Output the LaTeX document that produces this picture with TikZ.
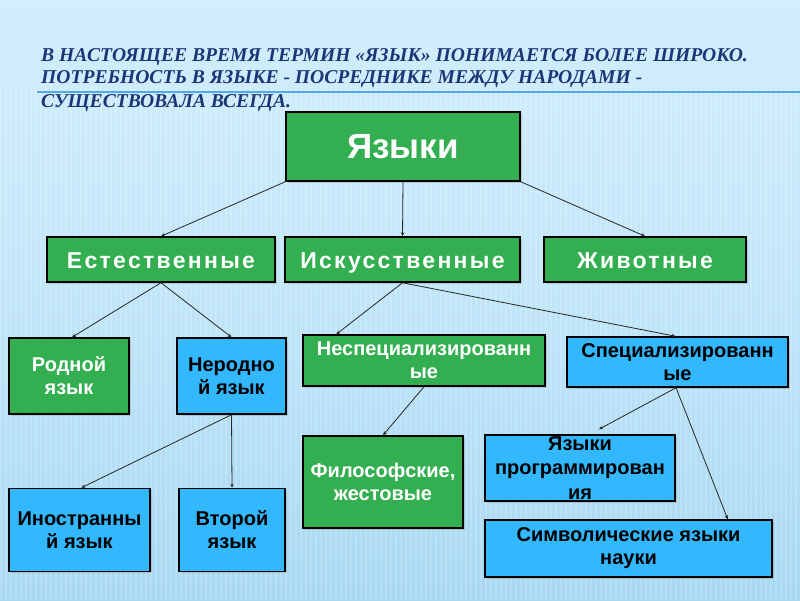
\documentclass[tikz,border=0pt]{standalone}
\usepackage{fontspec}
\setmainfont{Liberation Sans}
\newfontfamily\titlefont{Liberation Serif}
\newfontfamily\spacedfont[LetterSpace=10]{Liberation Sans}
\usetikzlibrary{arrows.meta,shadows}

\definecolor{bgtop}{HTML}{D3EEFC}
\definecolor{bgmid}{HTML}{C0E5F9}
\definecolor{bgbot}{HTML}{A8D8F2}
\definecolor{greenfill}{HTML}{33AE50}
\definecolor{bluefill}{HTML}{33B7FD}
\definecolor{titlecol}{HTML}{1B3676}
\definecolor{rulecol}{HTML}{4FAAE6}

\tikzset{
  box/.style={draw=black, line width=1.5pt, inner sep=1pt, align=center,
    font=\bfseries\fontsize{20}{23}\selectfont,
    drop shadow={shadow xshift=1.5pt, shadow yshift=-1.5pt, opacity=0.3}},
  greenbox/.style={box, fill=greenfill, text=white},
  bluebox/.style={box, fill=bluefill, text=black},
  levelone/.style={greenbox, minimum height=45pt, text height=17pt, text depth=0pt,
    font=\spacedfont\bfseries\fontsize{23}{26}\selectfont},
  conn/.style={draw=black!85, line width=0.8pt, -{Stealth[length=4pt,width=3.5pt]}},
  titletext/.style={anchor=base west, inner sep=0pt, text=titlecol,
    font=\titlefont\bfseries\itshape\fontsize{19.6}{22}\selectfont},
}

\begin{document}
\begin{tikzpicture}[x=1pt,y=-1pt]
\useasboundingbox (0,0) rectangle (800,600);
% background
\shade[top color=bgtop, bottom color=bgmid] (0,0) rectangle (800,300);
\shade[top color=bgmid, bottom color=bgbot] (0,300) rectangle (800,600);
\foreach \i in {0,5,...,800} {
  \fill[white, opacity=0.18] (\i,85) rectangle (\i+2,600);
}
\draw[rulecol, line width=1.3pt] (37,92) -- (800,92);

% title
\node[titletext] (title1) at (41,61) {В НАСТОЯЩЕЕ ВРЕМЯ ТЕРМИН «ЯЗЫК» ПОНИМАЕТСЯ БОЛЕЕ ШИРОКО.};
\node[titletext] (title2) at (41,83) {ПОТРЕБНОСТЬ В ЯЗЫКЕ - ПОСРЕДНИКЕ МЕЖДУ НАРОДАМИ -};
\node[titletext] (title3) at (41,107) {СУЩЕСТВОВАЛА ВСЕГДА.};

% level 0
\node[greenbox, minimum width=234pt, minimum height=69pt,
  font=\bfseries\fontsize{35}{40}\selectfont] (yazyki) at (403,146.5) {Языки};

% level 1
\node[levelone, minimum width=228pt] (est) at (161,259.5) {Естественные};
\node[levelone, minimum width=235pt] (iskus) at (402.5,259.5) {Искусственные};
\node[levelone, minimum width=202pt] (zhiv) at (645,259.5) {Животные};

% level 2
\node[greenbox, minimum width=120pt, minimum height=76pt] (rodnoy) at (69,376) {Родной\\язык};
\node[bluebox, minimum width=109pt, minimum height=76pt] (nerod) at (231.5,376) {Неродно\\й язык};
\node[greenbox, minimum width=242pt, minimum height=51pt] (nespec) at (424,360.5) {Неспециализированн\\ые};
\node[bluebox, minimum width=221pt, minimum height=50pt] (spec) at (677.5,362) {Специализированн\\ые};

% level 3
\node[greenbox, minimum width=160pt, minimum height=92pt] (filos) at (383,482) {Философские,\\жестовые};
\node[bluebox, minimum width=190pt, minimum height=66pt,
  font=\bfseries\fontsize{20}{24.5}\selectfont] (prog) at (580,468) {Языки\\программирован\\ия};
\node[bluebox, minimum width=287pt, minimum height=57pt] (simv) at (628.5,548.5) {Символические языки\\науки};
\node[bluebox, minimum width=141pt, minimum height=83pt] (inostr) at (79.5,530) {Иностранны\\й язык};
\node[bluebox, minimum width=106pt, minimum height=83pt] (vtoroy) at (232,530) {Второй\\язык};

% connectors
\draw[conn] (yazyki.south west) -- (est.north);
\draw[conn] (yazyki.south) -- (iskus.north);
\draw[conn] (yazyki.south east) -- (zhiv.north);
\draw[conn] (est.south) -- ([xshift=3pt]rodnoy.north);
\draw[conn] (est.south) -- (nerod.north);
\draw[conn] (iskus.south) -- ([xshift=34pt]nespec.north west);
\draw[conn] (iskus.south) -- ([xshift=-2pt]spec.north);
\draw[conn] (nespec.south) -- (filos.north);
\draw[conn] ([xshift=-1.5pt]spec.south) -- ([xshift=19pt,yshift=5pt]prog.north);
\draw[conn] ([xshift=-1.5pt]spec.south) -- ([xshift=-45pt]simv.north east);
\draw[conn] (nerod.south) -- ([xshift=73pt]inostr.north west);
\draw[conn] (nerod.south) -- (vtoroy.north);
\end{tikzpicture}
\end{document}
